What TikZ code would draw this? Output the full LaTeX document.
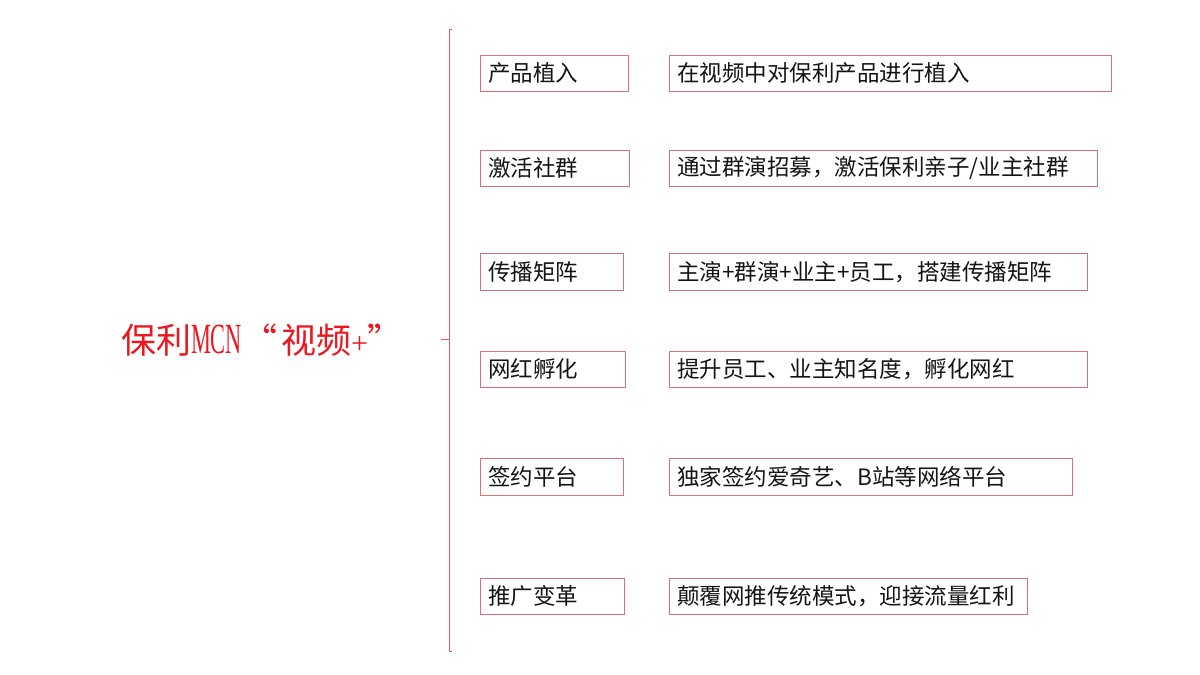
\documentclass[tikz,border=0pt]{standalone}
\usepackage{fontspec}
\setmainfont{Noto Sans CJK SC}
\newfontfamily\mcnfont[FakeStretch=0.52]{Liberation Serif}
\newfontfamily\plusfont{Liberation Serif}
\usepackage{tikz}
\usetikzlibrary{positioning}
\definecolor{boxred}{RGB}{226,110,124}
\definecolor{linepink}{RGB}{235,90,115}
\definecolor{titlered}{RGB}{236,22,30}

\begin{document}
\begin{tikzpicture}[x=1pt,y=-1pt]
    \tikzstyle{every node} = [font=\fontsize{22.5}{27}\selectfont, text=black!92]
    \tikzstyle{item} = [draw=boxred, line width=0.9pt, rectangle, anchor=north west, minimum height=36.5pt, inner xsep=8pt, inner ysep=0pt, align=left]
    \tikzstyle{detail} = [item]
    \useasboundingbox (0,0) rectangle (1200,675);

    % place nodes
    \node[font=\fontsize{35}{40}\selectfont, text=titlered] (title) at (262,340)
        {保利{\mcnfont\fontsize{43}{40}\selectfont MCN}“\hspace{4pt}视频{\plusfont\fontsize{30}{40}\selectfont +}”};

    \node[item, text width=132pt] (item1) at (480,54.5) {产品植入};
    \node[detail, text width=426pt] (desc1) at (669,54.5) {在视频中对保利产品进行植入};

    \node[item, text width=133pt] (item2) at (480,149.5) {激活社群};
    \node[detail, text width=412pt] (desc2) at (669,149.5) {通过群演招募，激活保利亲子/业主社群};

    \node[item, text width=127pt] (item3) at (480,253) {传播矩阵};
    \node[detail, text width=402pt] (desc3) at (669,253) {主演+群演+业主+员工，搭建传播矩阵};

    \node[item, text width=129pt] (item4) at (480,350.5) {网红孵化};
    \node[detail, text width=402pt] (desc4) at (669,350.5) {提升员工、业主知名度，孵化网红};

    \node[item, text width=127pt] (item5) at (480,458) {签约平台};
    \node[detail, text width=387pt] (desc5) at (669,458) {独家签约爱奇艺、B站等网络平台};

    \node[item, text width=128pt] (item6) at (480,577.5) {推广变革};
    \node[detail, text width=342pt] (desc6) at (669,577.5) {颠覆网推传统模式，迎接流量红利};

    % Connections
    \coordinate (bracetop) at (452,29);
    \coordinate (bracebot) at (452,651);
    \coordinate (tick) at (441,339.5);
    \coordinate (spine) at (449,339.5);
    \draw[linepink, line width=1pt] (bracetop) -- ++(-3,0) |- (bracebot);
    \draw[linepink, line width=1pt] (tick) -- (spine);

\end{tikzpicture}
\end{document}
